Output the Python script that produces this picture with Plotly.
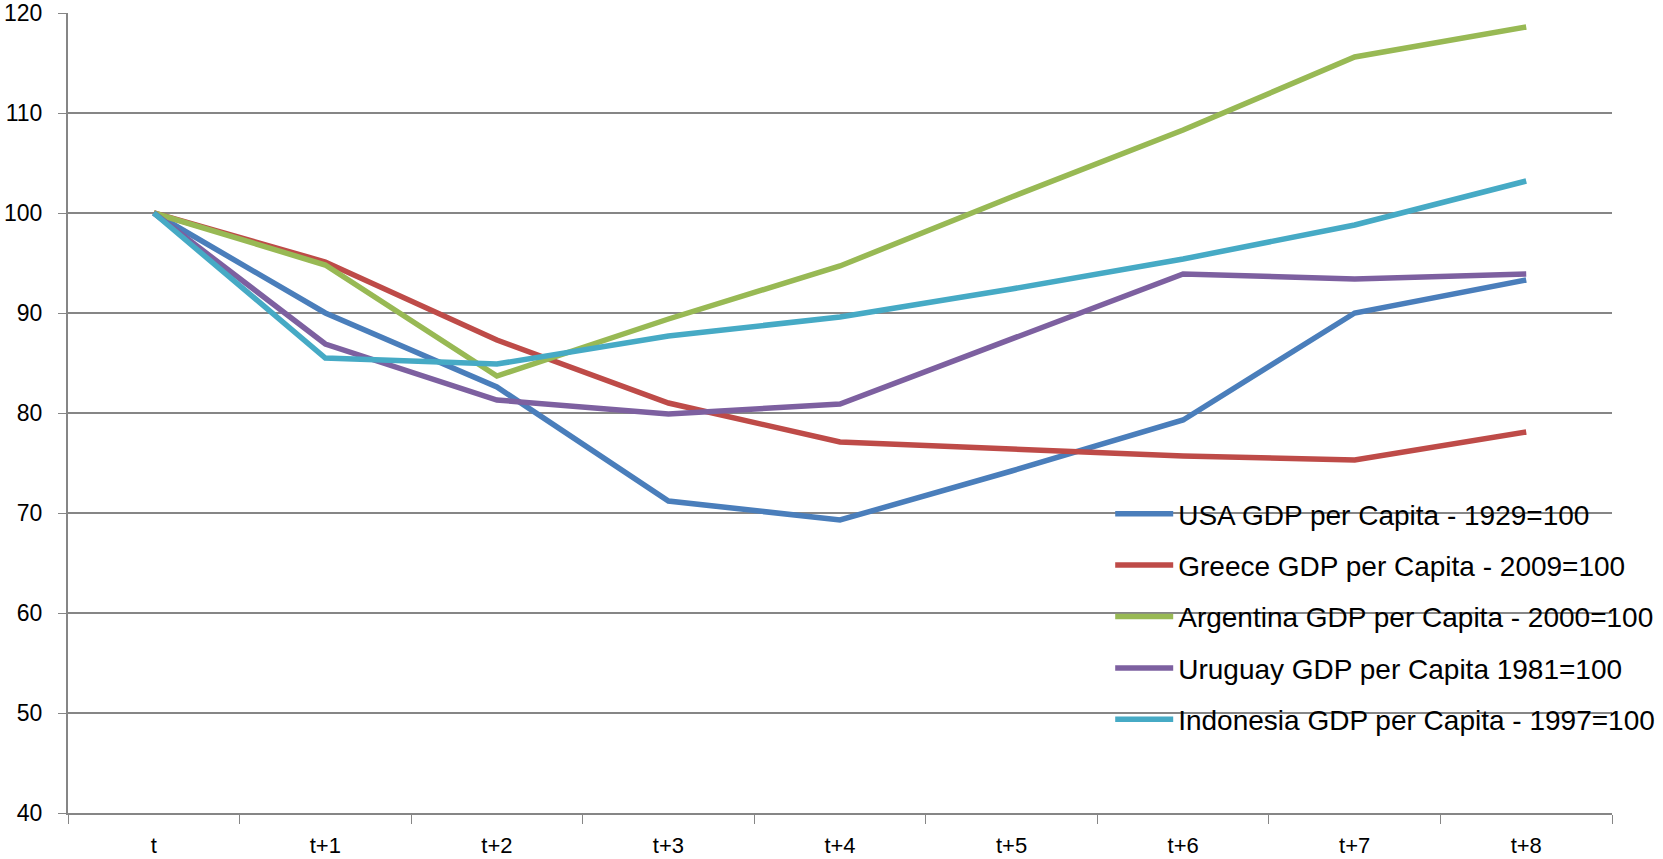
import plotly.graph_objects as go

periods = ["t", "t+1", "t+2", "t+3", "t+4", "t+5", "t+6", "t+7", "t+8"]

usa = [100, 90.0, 82.6, 71.2, 69.3, 74.2, 79.3, 90.0, 93.3]
greece = [100, 95.1, 87.3, 81.0, 77.1, 76.4, 75.7, 75.3, 78.1]
argentina = [100, 94.8, 83.7, 89.4, 94.7, 101.6, 108.3, 115.6, 118.6]
uruguay = [100, 86.9, 81.3, 79.9, 80.9, 87.4, 93.9, 93.4, 93.9]
indonesia = [100, 85.5, 84.9, 87.7, 89.6, 92.4, 95.4, 98.8, 103.2]

y_ticks = [40, 50, 60, 70, 80, 90, 100, 110, 120]

series_names = [
    "USA GDP per Capita - 1929=100",
    "Greece GDP per Capita - 2009=100",
    "Argentina GDP per Capita - 2000=100",
    "Uruguay GDP per Capita 1981=100",
    "Indonesia GDP per Capita - 1997=100",
]
series_values = [usa, greece, argentina, uruguay, indonesia]
colors = ["#4A7EBB", "#BE4B48", "#98B954", "#7D60A0", "#46AAC5"]

FONT = "Liberation Sans, Arial, sans-serif"

fig = go.Figure()
for i, (name, vals, col) in enumerate(zip(series_names, series_values, colors)):
    fig.add_trace(go.Scatter(
        x=periods, y=vals, name=name, mode="lines",
        line=dict(color=col, width=5.5),
        legendgroup=f"g{i}",
    ))

fig.update_layout(
    width=1663, height=859,
    margin=dict(l=68, r=51, t=13, b=46, autoexpand=False),
    paper_bgcolor="white", plot_bgcolor="white",
    font=dict(family=FONT, size=23, color="#000000"),
    showlegend=True,
    legend=dict(
        x=0.675, y=0.405, xanchor="left", yanchor="top",
        bgcolor="rgba(0,0,0,0)", borderwidth=0,
        font=dict(family=FONT, size=28, color="#000000"),
        traceorder="grouped", tracegroupgap=12,
        itemwidth=58,
    ),
    xaxis=dict(
        type="category", range=[-0.5, 8.5],
        showgrid=False, showline=True, linecolor="#868686", linewidth=2,
        ticks="outside", tickson="boundaries", ticklen=9, tickcolor="#868686",
        tickfont=dict(family=FONT, size=22), ticklabelstandoff=12,
        zeroline=False, automargin=False,
    ),
    yaxis=dict(
        range=[40, 120], tickmode="array", tickvals=y_ticks,
        ticktext=[str(v) for v in y_ticks],
        showgrid=True, gridcolor="#868686", gridwidth=1.8,
        showline=True, linecolor="#868686", linewidth=2,
        ticks="outside", ticklen=8, tickcolor="#868686",
        tickfont=dict(family=FONT, size=23), ticklabelstandoff=11,
        zeroline=False, automargin=False,
    ),
)

fig.write_html("out.html")
